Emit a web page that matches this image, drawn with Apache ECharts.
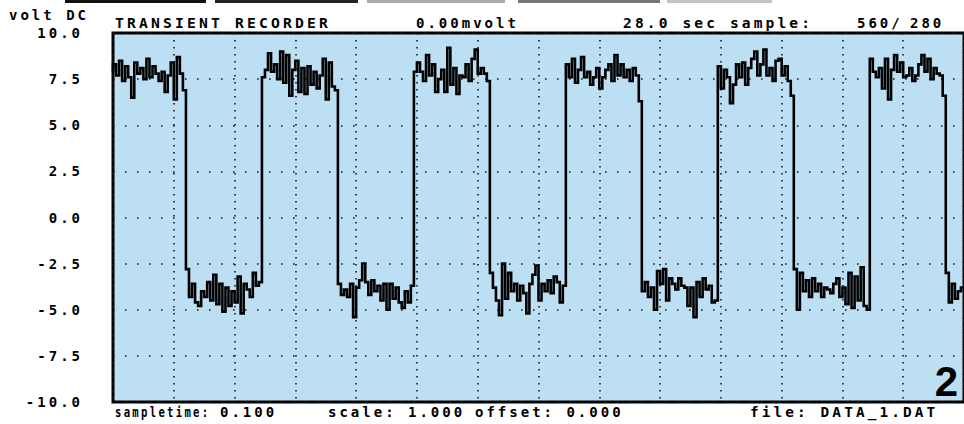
<!DOCTYPE html>
<html>
<head>
<meta charset="utf-8">
<script src="https://cdn.jsdelivr.net/npm/echarts@6/dist/echarts.min.js"></script>
<style>
html,body{margin:0;padding:0;background:#fff;}
#main{width:964px;height:424px;letter-spacing:3px;}
</style>
</head>
<body>
<div id="main"></div>
<script>
// ---- data (volt DC, one sample every 0.1 s) ----
const sampleTime = 0.1;
const high1 = [7.9, 8.3, 7.7, 8.5, 7.4, 8.2, 7.6, 6.5, 8.4, 7.8, 8.1, 7.5, 8.6, 7.6, 8.2, 7.8, 7.4, 7.9, 6.8, 7.7, 8.4, 6.4, 8.7, 7.8, 6.9];
const low1  = [-2.8, -4.3, -3.6, -4.6, -4.8, -4.0, -4.3, -3.5, -4.5, -3.1, -4.7, -3.6, -5.1, -3.8, -4.8, -4.0, -4.6, -3.2, -5.2, -3.6, -3.9, -4.3, -3.0, -3.7, -3.5];
const high2 = [7.6, 8.0, 8.9, 7.9, 8.3, 7.5, 9.0, 7.3, 8.8, 6.6, 8.0, 8.5, 6.8, 8.1, 6.7, 8.2, 7.2, 7.9, 7.0, 7.7, 8.6, 6.4, 8.4, 7.1, 6.9];
const low2  = [-3.6, -4.2, -3.9, -4.3, -3.6, -5.4, -3.8, -3.4, -2.5, -3.5, -4.2, -3.4, -4.0, -3.7, -4.5, -3.6, -5.0, -3.6, -4.4, -3.8, -4.6, -4.9, -4.0, -4.6, -3.7];
const high3 = [7.9, 8.4, 7.9, 7.4, 8.8, 7.7, 8.3, 6.8, 7.5, 8.0, 6.8, 9.2, 7.2, 8.1, 6.7, 7.7, 7.6, 8.3, 7.4, 8.6, 9.1, 7.8, 8.1, 7.8, 7.4];
const low3  = [-3.0, -3.8, -4.5, -5.3, -2.5, -4.4, -3.0, -4.0, -3.6, -4.5, -3.7, -4.1, -5.2, -3.6, -3.1, -2.6, -4.5, -3.6, -4.0, -3.4, -4.1, -3.2, -3.5, -4.6, -3.7];
const high4 = [8.3, 7.6, 8.6, 7.3, 8.0, 8.7, 7.6, 7.9, 7.2, 7.6, 8.1, 7.0, 7.6, 8.0, 8.3, 7.4, 8.8, 7.7, 8.3, 7.6, 8.0, 7.4, 8.1, 7.7, 6.3];
const low4  = [-4.0, -3.5, -4.3, -3.8, -5.0, -2.9, -3.6, -2.8, -4.5, -3.3, -3.6, -3.9, -3.3, -3.7, -3.8, -4.8, -3.8, -5.4, -3.5, -4.3, -3.3, -3.9, -3.7, -4.6, -4.5];
const high5 = [8.2, 7.0, 8.0, 7.6, 6.2, 7.2, 8.3, 7.6, 8.4, 7.2, 8.1, 8.6, 9.0, 7.7, 8.3, 9.1, 7.7, 8.1, 7.4, 8.5, 8.6, 7.7, 8.2, 7.4, 6.6];
const low5  = [-2.8, -5.0, -3.0, -4.0, -3.4, -4.3, -3.3, -4.0, -3.6, -4.3, -3.8, -3.9, -4.1, -3.6, -3.3, -4.3, -3.8, -4.7, -3.0, -4.9, -3.2, -4.5, -2.7, -4.8, -5.0];
const high6 = [8.6, 7.9, 7.6, 8.1, 7.0, 8.6, 6.4, 8.0, 8.8, 7.9, 8.4, 7.6, 7.7, 8.1, 7.4, 7.7, 8.3, 8.8, 7.9, 8.6, 7.5, 8.1, 7.8, 7.7, 6.6];
const low6  = [-3.0, -4.6, -3.6, -4.4, -4.0, -3.8];

const yTickLabels = ['-10.0', '-7.5', '-5.0', '-2.5', '0.0', '2.5', '5.0', '7.5', '10.0'];
const headerTexts = ['TRANSIENT RECORDER', '0.00mvolt', '28.0 sec sample:', '560/', '280'];
const footerTexts = ['sampletime:', '0.100', 'scale: 1.000', 'offset: 0.000', 'file: DATA_1.DAT'];
const yUnit = 'volt DC';
const panelNo = '2';

// ---- build ----
const volts = [].concat(high1, low1, high2, low2, high3, low3, high4, low4, high5, low5, high6, low6);
const points = volts.map((v, i) => [+(i * sampleTime).toFixed(1), v]);

const FONT = 'bold 14px "DejaVu Sans Mono", monospace';
function txt(text, x, y, align, font, sx) {
  return {
    type: 'text', x: x, y: y, z: 100, scaleX: sx || 1,
    style: {
      text: text, font: font || FONT, fill: '#000',
      textAlign: align || 'left', textVerticalAlign: 'middle',
      align: align || 'left', verticalAlign: 'middle'
    }
  };
}
function bar(x, w, c) {
  return { type: 'rect', z: 100, shape: { x: x, y: 0, width: w, height: 3 }, style: { fill: c } };
}

const chart = echarts.init(document.getElementById('main'), null, { renderer: 'svg' });
chart.setOption({
  animation: false,
  backgroundColor: '#ffffff',
  grid: {
    left: 113, right: -3, top: 33, bottom: 22,
    show: true, backgroundColor: '#bcdff3', borderColor: '#000', borderWidth: 3
  },
  xAxis: {
    type: 'value', min: 0, max: 28, interval: 2,
    axisLine: { show: false }, axisTick: { show: false }, axisLabel: { show: false },
    splitLine: { show: true, lineStyle: { color: '#1a1a1a', width: 1.6, type: [1.6, 5.4] } }
  },
  yAxis: {
    type: 'value', min: -10, max: 10, interval: 2.5,
    axisLine: { show: false }, axisTick: { show: false },
    axisLabel: {
      margin: 30, color: '#000', fontFamily: '"DejaVu Sans Mono", monospace',
      fontWeight: 'bold', fontSize: 14,
      formatter: function (v) { return yTickLabels[Math.round((v + 10) / 2.5)]; }
    },
    splitLine: { show: true, lineStyle: { color: '#1a1a1a', width: 1.6, type: [1.6, 10.4] } }
  },
  series: [{
    type: 'line', step: 'start', data: points, showSymbol: false,
    lineStyle: { color: '#000', width: 2.6, join: 'miter' }, clip: true
  }],
  graphic: [
    bar(65, 141, '#111'), bar(215, 143, '#222'), bar(367, 138, '#aaa'),
    bar(518, 142, '#777'), bar(667, 105, '#c4c4c4'),
    txt(yUnit, 9, 15),
    txt(headerTexts[0], 115, 23, 'left', FONT, 1.05),
    txt(headerTexts[1], 416, 23),
    txt(headerTexts[2], 623, 23, 'left', FONT, 1.04),
    txt(headerTexts[3], 857, 23),
    txt(headerTexts[4], 910, 23),
    txt(footerTexts[0], 115, 412, 'left', FONT, 0.76),
    txt(footerTexts[1], 220, 412),
    txt(footerTexts[2], 328, 412),
    txt(footerTexts[3], 475, 412),
    txt(footerTexts[4], 750, 412, 'left', FONT, 1.03),
    txt(panelNo, 961, 381, 'right', 'bold 42px "Liberation Sans", Arial, sans-serif')
  ]
});
</script>
</body>
</html>
